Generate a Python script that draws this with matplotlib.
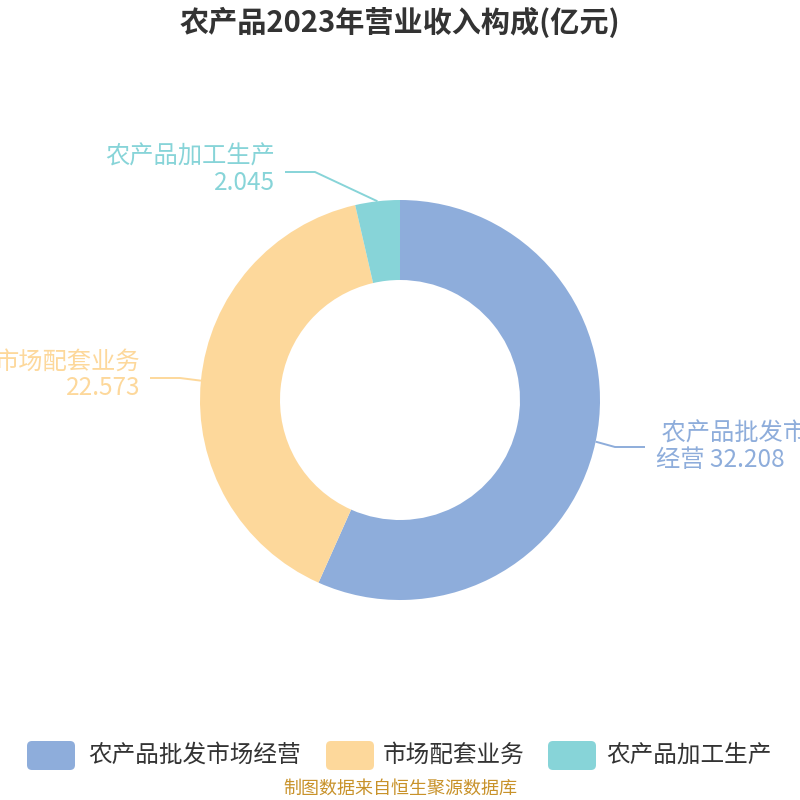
import matplotlib
matplotlib.use("Agg")
import matplotlib.pyplot as plt
from matplotlib.patches import FancyBboxPatch
import numpy as np

plt.rcParams['font.family'] = ['Noto Sans CJK SC', 'DejaVu Sans']

categories = ["农产品批发市场经营", "市场配套业务", "农产品加工生产"]
values = [32.208, 22.573, 2.045]
value_labels = ["32.208", "22.573", "2.045"]
colors = ["#8eaddb", "#fdd89b", "#87d4d8"]
title = "农产品2023年营业收入构成(亿元)"
source = "制图数据来自恒生聚源数据库"

fig = plt.figure(figsize=(8, 8), dpi=100)
ax = fig.add_axes([0, 0, 1, 1])
ax.set_xlim(0, 800)
ax.set_ylim(0, 800)
ax.set_aspect('equal')
ax.axis('off')

def Y(p):
    return 800 - p

cx, cy, R, r_in = 400, Y(400), 200, 120
wedges, _ = ax.pie(values, colors=colors, startangle=90, counterclock=False,
                   radius=R, center=(cx, cy),
                   wedgeprops=dict(width=R - r_in, edgecolor='none'))
ax.set_xlim(0, 800)
ax.set_ylim(0, 800)

# label layout: elbow point, end point, text pos, alignment, text
elbows = [(615, 447), (180, 378), (315, 172)]
ends = [(645, 447), (150, 378), (285, 172)]
text_pos = [(656, 447), (140, 375), (275, 170)]
aligns = ['left', 'right', 'right']
texts = [" 农产品批发市场\n经营 " + value_labels[0],
         categories[1] + "\n" + value_labels[1],
         categories[2] + "\n" + value_labels[2]]

for w, col, el, en, tp, al, tx in zip(wedges, colors, elbows, ends, text_pos, aligns, texts):
    ang = np.deg2rad((w.theta1 + w.theta2) / 2)
    x0 = cx + R * np.cos(ang)
    y0 = cy + R * np.sin(ang)
    ax.plot([x0, el[0], en[0]], [y0, Y(el[1]), Y(en[1])], color=col, lw=1.4,
            solid_capstyle='butt')
    ax.text(tp[0], Y(tp[1]), tx, color=col, fontsize=17.5, ha=al, va='center',
            linespacing=1.0, clip_on=False)

ax.text(400, Y(22), title, fontsize=21, fontweight='bold', color='#333333',
        ha='center', va='center')

# legend
box_x = [27, 326, 548]
text_x = [88, 383, 606]
for bx, tx, col, cat in zip(box_x, text_x, colors, categories):
    p = FancyBboxPatch((bx + 5, Y(770) + 5), 48 - 10, 29 - 10,
                       boxstyle="round,pad=5", fc=col, ec='none')
    ax.add_patch(p)
    ax.text(tx, Y(755), cat, fontsize=17, color='#333333', ha='left', va='center')

ax.text(400, Y(789), source, fontsize=13, color='#c8922a', ha='center', va='center')

fig.savefig("out.png", dpi=100)
